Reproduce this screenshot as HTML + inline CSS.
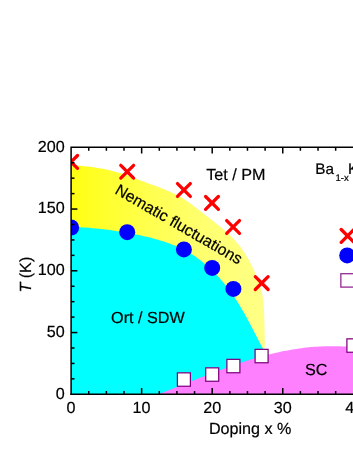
<!DOCTYPE html>
<html><head><meta charset="utf-8"><title>Phase diagram</title>
<style>
html,body{margin:0;padding:0;background:#fff;}
body{width:353px;height:457px;overflow:hidden;font-family:"Liberation Sans",sans-serif;}
svg{display:block;will-change:transform;opacity:0.999;}
text{text-rendering:geometricPrecision;font-family:"Liberation Sans",sans-serif;font-size:16.15px;fill:#000;stroke:#000;stroke-width:0.2px;}
</style></head><body>
<svg width="353" height="457" viewBox="0 0 353 457">
<defs>
<linearGradient id="yg" gradientUnits="userSpaceOnUse" x1="70.9" y1="0" x2="264.5" y2="0">
<stop offset="0" stop-color="#ffff12"/><stop offset="0.17" stop-color="#ffff2c"/><stop offset="0.4" stop-color="#ffff4e"/><stop offset="0.67" stop-color="#ffff6e"/><stop offset="1" stop-color="#ffff86"/>
</linearGradient>
<clipPath id="plot"><rect x="71.1" y="147.3" width="300" height="247"/></clipPath>
</defs>
<rect width="353" height="457" fill="#fff"/>

<g clip-path="url(#plot)">
<path d="M70.90,165.50 L74.71,165.55 L78.50,165.74 L82.30,166.02 L86.11,166.38 L89.92,166.81 L93.72,167.32 L97.52,167.91 L101.30,168.57 L105.07,169.30 L108.82,170.10 L112.54,170.97 L116.23,171.91 L119.89,172.94 L123.51,174.06 L127.08,175.29 L130.61,176.64 L134.13,178.04 L137.66,179.44 L141.22,180.80 L144.81,182.12 L148.42,183.42 L152.04,184.71 L155.66,186.02 L159.26,187.35 L162.84,188.73 L166.39,190.16 L169.90,191.67 L173.36,193.27 L176.76,194.98 L180.08,196.81 L183.33,198.77 L186.51,200.85 L189.63,203.03 L192.71,205.28 L195.76,207.59 L198.79,209.94 L201.82,212.30 L204.85,214.66 L207.89,217.00 L210.93,219.35 L213.96,221.70 L216.97,224.07 L219.95,226.48 L222.88,228.92 L225.76,231.43 L228.57,233.99 L231.30,236.64 L233.95,239.37 L236.50,242.19 L238.95,245.11 L241.28,248.11 L243.49,251.22 L245.58,254.42 L247.56,257.70 L249.44,261.05 L251.22,264.47 L252.91,267.93 L254.51,271.43 L256.04,274.95 L257.50,278.50 L258.86,282.07 L260.06,285.67 L261.07,289.32 L261.90,293.02 L262.58,296.75 L263.12,300.51 L263.53,304.30 L263.84,308.11 L264.07,311.94 L264.23,315.78 L264.34,319.63 L264.42,323.48 L264.50,327.32 L264.58,331.16 L264.68,334.99 L264.78,338.80 L264.79,342.59 L264.67,346.34 L264.00,350.00 L264.0,394.3 L71.1,394.3 Z" fill="url(#yg)"/>
<path d="M70.90,226.70 L74.02,226.80 L77.13,226.98 L80.24,227.17 L83.35,227.38 L86.45,227.61 L89.55,227.86 L92.64,228.14 L95.74,228.43 L98.83,228.75 L101.92,229.09 L105.01,229.46 L108.09,229.85 L111.18,230.26 L114.26,230.69 L117.34,231.15 L120.41,231.63 L123.49,232.13 L126.56,232.66 L129.63,233.22 L132.70,233.80 L135.76,234.41 L138.82,235.04 L141.88,235.70 L144.94,236.39 L147.98,237.11 L151.02,237.87 L154.04,238.67 L157.05,239.51 L160.04,240.39 L163.01,241.33 L165.97,242.31 L168.89,243.35 L171.79,244.44 L174.67,245.60 L177.51,246.82 L180.32,248.10 L183.09,249.45 L185.83,250.87 L188.52,252.37 L191.18,253.94 L193.79,255.59 L196.35,257.33 L198.87,259.13 L201.35,261.01 L203.78,262.95 L206.17,264.96 L208.51,267.02 L210.80,269.14 L213.05,271.32 L215.25,273.54 L217.41,275.81 L219.52,278.12 L221.58,280.47 L223.60,282.86 L225.58,285.28 L227.51,287.74 L229.39,290.23 L231.24,292.75 L233.04,295.30 L234.79,297.87 L236.51,300.47 L238.19,303.10 L239.82,305.74 L241.43,308.40 L243.00,311.09 L244.54,313.78 L246.05,316.50 L247.54,319.22 L249.02,321.96 L250.47,324.71 L251.92,327.46 L253.35,330.22 L254.77,332.99 L256.20,335.76 L257.62,338.52 L259.04,341.29 L260.47,344.06 L261.90,346.82 L263.50,349.50 L263.5,394.3 L71.1,394.3 Z" fill="#00ffff"/>
<path d="M157.50,394.30 L160.00,393.56 L162.38,392.65 L164.77,391.74 L167.15,390.81 L169.54,389.89 L171.93,388.95 L174.31,388.01 L176.70,387.07 L179.09,386.13 L181.48,385.18 L183.87,384.23 L186.26,383.28 L188.65,382.33 L191.04,381.38 L193.44,380.42 L195.83,379.47 L198.23,378.53 L200.63,377.58 L203.03,376.64 L205.43,375.70 L207.84,374.76 L210.24,373.83 L212.65,372.90 L215.06,371.98 L217.47,371.07 L219.89,370.16 L222.31,369.26 L224.73,368.38 L227.15,367.49 L229.57,366.62 L232.00,365.76 L234.43,364.91 L236.87,364.07 L239.31,363.25 L241.75,362.43 L244.19,361.63 L246.64,360.85 L249.09,360.07 L251.54,359.32 L254.00,358.58 L256.46,357.85 L258.93,357.14 L261.40,356.45 L263.87,355.78 L266.35,355.13 L268.83,354.49 L271.32,353.88 L273.81,353.28 L276.30,352.71 L278.80,352.16 L281.31,351.62 L283.81,351.11 L286.32,350.63 L288.84,350.16 L291.36,349.72 L293.88,349.30 L296.41,348.91 L298.94,348.54 L301.48,348.19 L304.02,347.87 L306.57,347.58 L309.12,347.31 L311.67,347.07 L314.23,346.86 L316.79,346.68 L319.36,346.52 L321.93,346.39 L324.51,346.29 L327.09,346.22 L329.67,346.18 L332.26,346.18 L334.86,346.20 L337.45,346.25 L340.06,346.34 L342.67,346.46 L345.28,346.61 L347.89,346.79 L350.52,347.01 L353.00,346.80 L353,394.3 Z" fill="#ff80ff"/>
<g stroke="#ff0000" stroke-width="3.3" stroke-linecap="round" fill="none">
<path d="M64.70,155.50L77.50,168.30M64.70,168.30L77.50,155.50"/>
<path d="M120.80,165.30L133.60,178.10M120.80,178.10L133.60,165.30"/>
<path d="M177.50,183.60L190.30,196.40M177.50,196.40L190.30,183.60"/>
<path d="M205.60,196.50L218.40,209.30M205.60,209.30L218.40,196.50"/>
<path d="M226.70,220.60L239.50,233.40M226.70,233.40L239.50,220.60"/>
<path d="M255.30,276.70L268.10,289.50M255.30,289.50L268.10,276.70"/>
</g>
<g fill="#0000ff">
<circle cx="71.10" cy="227.50" r="8"/>
<circle cx="127.20" cy="232.20" r="8"/>
<circle cx="183.90" cy="249.40" r="8"/>
<circle cx="212.20" cy="267.90" r="8"/>
<circle cx="233.40" cy="288.90" r="8"/>
</g>
<g fill="#fff" stroke="#800080" stroke-width="1.25">
<rect x="177.40" y="372.85" width="13.0" height="13.4"/>
<rect x="205.70" y="367.85" width="13.0" height="13.4"/>
<rect x="226.90" y="359.35" width="13.0" height="13.4"/>
<rect x="255.10" y="349.35" width="13.0" height="13.4"/>
<rect x="346.90" y="338.85" width="13.0" height="13.4"/>
</g>
</g>
<path d="M341.2,229.5L353.99999999999994,242.3M341.2,242.3L353.99999999999994,229.5" stroke="#ff0000" stroke-width="3.3" stroke-linecap="round" fill="none"/>
<circle cx="347.2" cy="255.4" r="8" fill="#0000ff"/>
<rect x="340.85" y="273.7" width="20" height="13.4" fill="#fff" stroke="#942a94" stroke-width="1.3"/>
<g stroke="#000" stroke-width="1.5" fill="none" stroke-linecap="butt">
<path d="M71.1,395.05V147.29999999999998H353" stroke-linejoin="miter"/>
<path d="M70.35,394.3H353"/>
<path d="M88.74,394.3v-3.4M88.74,147.29999999999998v3.4"/>
<path d="M106.38,394.3v-3.4M106.38,147.29999999999998v3.4"/>
<path d="M124.01,394.3v-3.4M124.01,147.29999999999998v3.4"/>
<path d="M141.65,394.3v-6.3M141.65,147.29999999999998v6.3"/>
<path d="M159.29,394.3v-3.4M159.29,147.29999999999998v3.4"/>
<path d="M176.92,394.3v-3.4M176.92,147.29999999999998v3.4"/>
<path d="M194.56,394.3v-3.4M194.56,147.29999999999998v3.4"/>
<path d="M212.20,394.3v-6.3M212.20,147.29999999999998v6.3"/>
<path d="M229.84,394.3v-3.4M229.84,147.29999999999998v3.4"/>
<path d="M247.47,394.3v-3.4M247.47,147.29999999999998v3.4"/>
<path d="M265.11,394.3v-3.4M265.11,147.29999999999998v3.4"/>
<path d="M282.75,394.3v-6.3M282.75,147.29999999999998v6.3"/>
<path d="M300.39,394.3v-3.4M300.39,147.29999999999998v3.4"/>
<path d="M318.02,394.3v-3.4M318.02,147.29999999999998v3.4"/>
<path d="M335.66,394.3v-3.4M335.66,147.29999999999998v3.4"/>
<path d="M71.1,378.86h3.4"/>
<path d="M71.1,363.43h3.4"/>
<path d="M71.1,347.99h3.4"/>
<path d="M71.1,332.55h6.3"/>
<path d="M71.1,317.11h3.4"/>
<path d="M71.1,301.68h3.4"/>
<path d="M71.1,286.24h3.4"/>
<path d="M71.1,270.80h6.3"/>
<path d="M71.1,255.36h3.4"/>
<path d="M71.1,239.93h3.4"/>
<path d="M71.1,224.49h3.4"/>
<path d="M71.1,209.05h6.3"/>
<path d="M71.1,193.61h3.4"/>
<path d="M71.1,178.17h3.4"/>
<path d="M71.1,162.74h3.4"/>
</g>
<text x="64.7" y="398.6" text-anchor="end">0</text>
<text x="64.7" y="336.9" text-anchor="end">50</text>
<text x="64.7" y="275.1" text-anchor="end">100</text>
<text x="64.7" y="213.3" text-anchor="end">150</text>
<text x="64.7" y="151.6" text-anchor="end">200</text>
<text x="71.1" y="413.2" text-anchor="middle">0</text>
<text x="141.6" y="413.2" text-anchor="middle">10</text>
<text x="212.2" y="413.2" text-anchor="middle">20</text>
<text x="282.8" y="413.2" text-anchor="middle">30</text>
<text x="354.2" y="413.2" text-anchor="middle">40</text>
<text x="208.9" y="433.6">Doping x %</text>
<text transform="translate(30.9,292.4) rotate(-90)"><tspan font-style="italic">T</tspan><tspan dx="-0.2"> (K)</tspan></text>
<text x="206.2" y="179.8">Tet / PM</text>
<text x="111.1" y="323.0">Ort / SDW</text>
<text x="304.9" y="375.3">SC</text>
<text x="315.3" y="173.9" style="font-size:15.3px">Ba</text><text x="335.4" y="180.8" style="font-size:9.6px">1-x</text><text x="347.9" y="173.9" style="font-size:15.3px">K</text>
<text transform="translate(114.06,193.1) rotate(30)" style="font-size:15.95px">Nematic fluctuations</text>
</svg></body></html>
